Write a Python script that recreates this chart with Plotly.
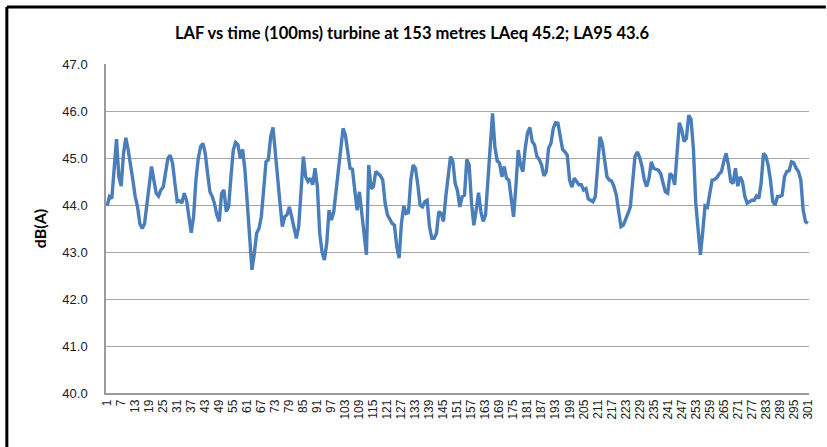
import plotly.graph_objects as go

# ---- data ----
sample_index = list(range(1, 302))

laf_1_50 = [43.98, 44.18, 44.14, 44.80, 45.40, 44.60, 44.40, 45.10, 45.43, 45.17,
            44.90, 44.53, 44.18, 43.96, 43.60, 43.50, 43.60, 44.04, 44.46, 44.82,
            44.53, 44.25, 44.19, 44.32, 44.38, 44.74, 44.99, 45.06, 44.89, 44.46,
            44.07, 44.09, 44.04, 44.25, 44.10, 43.75, 43.41, 43.75, 44.53, 44.99,
            45.24, 45.31, 45.10, 44.67, 44.28, 44.18, 44.02, 43.78, 43.65, 44.25]
laf_51_100 = [44.32, 43.86, 43.96, 44.60, 45.17, 45.33, 45.28, 44.99, 45.18, 44.74,
              44.10, 43.40, 42.62, 42.97, 43.40, 43.50, 43.75, 44.32, 44.92, 44.96,
              45.45, 45.65, 45.17, 44.60, 44.04, 43.54, 43.75, 43.79, 43.96, 43.75,
              43.47, 43.29, 43.54, 44.25, 45.03, 44.60, 44.50, 44.57, 44.43, 44.78,
              44.39, 43.40, 43.00, 42.83, 43.18, 43.89, 43.68, 43.85, 44.30, 44.70]
laf_101_150 = [45.31, 45.63, 45.49, 45.10, 44.78, 44.76, 44.32, 43.89, 44.28, 43.82,
               43.33, 42.94, 44.85, 44.35, 44.39, 44.71, 44.67, 44.62, 44.53, 44.04,
               43.79, 43.68, 43.61, 43.57, 43.11, 42.87, 43.61, 43.98, 43.82, 43.84,
               44.53, 44.85, 44.78, 44.43, 44.00, 43.96, 44.07, 44.10, 43.54, 43.29,
               43.29, 43.40, 43.86, 43.82, 43.65, 44.18, 44.67, 45.03, 44.93, 44.46]
laf_151_200 = [44.30, 43.96, 44.18, 44.21, 44.97, 44.85, 44.04, 43.57, 43.89, 44.26,
               43.86, 43.65, 43.79, 44.53, 45.31, 45.95, 45.24, 44.94, 44.89, 44.60,
               44.82, 44.57, 44.53, 44.07, 43.75, 44.39, 45.17, 44.85, 44.71, 45.21,
               45.54, 45.65, 45.35, 45.28, 45.03, 44.97, 44.85, 44.62, 44.71, 45.21,
               45.31, 45.63, 45.75, 45.74, 45.45, 45.18, 45.13, 45.06, 44.53, 44.38]
laf_201_250 = [44.57, 44.50, 44.43, 44.43, 44.32, 44.35, 44.13, 44.10, 44.07, 44.18,
               44.82, 45.45, 45.31, 44.89, 44.60, 44.53, 44.51, 44.39, 44.21, 43.86,
               43.54, 43.57, 43.68, 43.82, 43.96, 44.53, 45.03, 45.13, 45.01, 44.82,
               44.53, 44.39, 44.57, 44.92, 44.78, 44.76, 44.74, 44.67, 44.46, 44.28,
               44.25, 44.67, 44.62, 44.43, 45.10, 45.75, 45.60, 45.35, 45.42, 45.91]
laf_251_301 = [45.82, 45.20, 44.05, 43.40, 42.94, 43.43, 43.98, 43.95, 44.21, 44.53,
               44.54, 44.58, 44.66, 44.71, 44.92, 45.10, 44.85, 44.50, 44.46, 44.78,
               44.40, 44.60, 44.50, 44.19, 44.04, 44.07, 44.10, 44.10, 44.19, 44.14,
               44.46, 45.10, 45.04, 44.85, 44.53, 44.07, 44.00, 44.18, 44.18, 44.21,
               44.60, 44.71, 44.73, 44.92, 44.90, 44.78, 44.71, 44.53, 43.89, 43.65,
               43.61]

laf_db = laf_1_50 + laf_51_100 + laf_101_150 + laf_151_200 + laf_201_250 + laf_251_301

x_tick_values = list(range(1, 302, 6))
x_tick_labels = [str(v) for v in x_tick_values]
y_tick_values = [40.0, 41.0, 42.0, 43.0, 44.0, 45.0, 46.0, 47.0]
y_tick_labels = ["40.0", "41.0", "42.0", "43.0", "44.0", "45.0", "46.0", "47.0"]

title_text = "LAF vs time (100ms) turbine at 153 metres LAeq 45.2; LA95 43.6"
y_title = "dB(A)"

# ---- figure ----
W, H = 827, 447
L, R, T, B = 106, 12, 64, 54

fig = go.Figure()
fig.add_trace(go.Scatter(
    x=sample_index, y=laf_db, mode="lines",
    line=dict(color="#4A7EBB", width=3.4),
    hoverinfo="x+y", showlegend=False,
))

pw = W - L - R
ph = H - T - B


def px_x(X):
    return (X - L) / pw


def px_y(Y):
    return (H - B - Y) / ph


fig.update_layout(
    width=W, height=H, autosize=False,
    margin=dict(l=L, r=R, t=T, b=B, pad=0),
    paper_bgcolor="white", plot_bgcolor="white",
    title=dict(text="<b>" + title_text + "</b>", x=(172 + 652) / 2 / W, xref="container",
               xanchor="center", y=1 - 33 / H, yanchor="middle",
               font=dict(family="Lato", size=16.5, color="#000000")),
    xaxis=dict(range=[0.5, 301.5], tickmode="array", tickvals=x_tick_values,
               ticktext=x_tick_labels, tickangle=-90,
               tickfont=dict(family="Liberation Sans", size=12, color="#1a1a1a"),
               showgrid=False, zeroline=False, showline=True,
               linecolor="#9a9a9a", linewidth=1.5, ticks="", ticklen=0),
    yaxis=dict(range=[40, 47], tickmode="array", tickvals=y_tick_values,
               ticktext=y_tick_labels,
               tickfont=dict(family="Liberation Sans", size=13, color="#1a1a2e"),
               showgrid=True, gridcolor="#a6a6a6", gridwidth=1.2,
               zeroline=False, showline=True, linecolor="#9a9a9a", linewidth=1.5,
               ticks="", ticklen=0, ticklabelstandoff=14,
               title=dict(text="<b>" + y_title + "</b>", standoff=12,
                          font=dict(family="Lato", size=16, color="#000000"))),
    shapes=[
        dict(type="line", xref="paper", yref="paper",
             x0=px_x(6), x1=px_x(6), y0=px_y(H + 5), y1=px_y(7),
             line=dict(color="#000000", width=3)),
        dict(type="line", xref="paper", yref="paper",
             x0=px_x(6), x1=px_x(W + 5), y0=px_y(7), y1=px_y(7),
             line=dict(color="#000000", width=3)),
    ],
)

fig.write_html("out.html", config={"displayModeBar": False},
               post_script="document.body.style.margin='0';")
